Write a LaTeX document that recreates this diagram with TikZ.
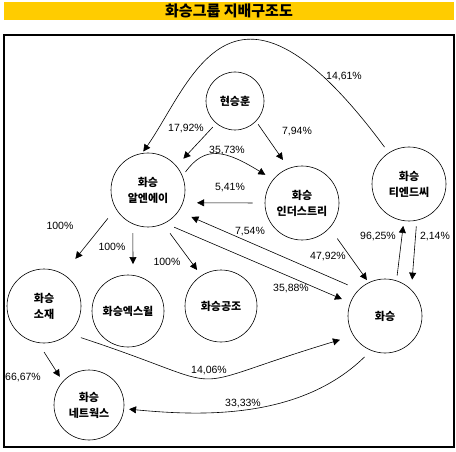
\documentclass[tikz,border=0pt]{standalone}
\usepackage{fontspec}
\setmainfont{Liberation Sans}
\newfontfamily\kr{Noto Sans CJK KR}
\usetikzlibrary{arrows.meta}
\definecolor{amarelo}{RGB}{255,204,0}
\begin{document}
\begin{tikzpicture}[x=1pt,y=-1pt,
	circ/.style={circle,draw,line width=0.6pt,inner sep=0pt,align=center,
		font=\kr\bfseries\fontsize{11}{16}\selectfont},
	seta/.style={-{Triangle[length=7pt,width=7pt]},line width=0.6pt},
	pct/.style={font=\fontsize{10.5}{13}\selectfont,inner sep=0pt}]
		
		\useasboundingbox (0,0) rectangle (456,452);
		
		% 제목
		\fill[amarelo] (4,2) rectangle (454,20);
		\node[font=\kr\bfseries\fontsize{15}{18}\selectfont] (titulo) at (229,11) {화승그룹 지배구조도};
		
		% 테두리
		\draw[line width=1.4pt] (4,35) rectangle (454,447);
		
		% 회사들
		\node[circ,minimum size=58pt] (hsh) at (235,101) {현승훈};
		\node[circ,minimum size=74pt] (rna) at (148,190) {화승\\알엔에이};
		\node[circ,minimum size=74pt] (ind) at (302,203) {화승\\인더스트리};
		\node[circ,minimum size=74pt] (tnd) at (409,184) {화승\\티엔드씨};
		\node[circ,minimum size=74pt] (hs) at (385,316) {화승};
		\node[circ,minimum size=74pt] (soj) at (44,306) {화승\\소재};
		\node[circ,minimum size=72pt] (xw) at (128,311) {화승엑스윌};
		\node[circ,minimum size=72pt] (gj) at (221,306) {화승공조};
		\node[circ,minimum size=70pt] (net) at (89,405) {화승\\네트웍스};
		
		% 현승훈 지분
		\draw[seta,shorten <=5pt,shorten >=10pt] (hsh.230) -- (rna.40);
		\node[pct] (p1) at (186,129) {17,92\%};
		\draw[seta,shorten <=3.6pt,shorten >=10pt] (hsh.-44) -- (ind.111);
		\node[pct] (p2) at (297,132) {7,94\%};
		
		% 티엔드씨 -> 알엔에이 (위쪽 곡선)
		\draw[seta,shorten <=7pt,shorten >=2pt] (tnd.123) .. controls (232,-59) and (192,82) .. (rna.99);
		\node[pct] (p3) at (344,77) {14,61\%};
		
		% 알엔에이 <-> 인더스트리
		\draw[seta,shorten <=5pt,shorten >=9pt] (rna.22) .. controls (205,145) and (225,150) .. (ind.141);
		\node[pct] (p4) at (227,151) {35,73\%};
		\draw[seta,shorten <=12pt,shorten >=14pt] (ind.180) -- (rna.-20);
		\node[pct] (p5) at (230,188) {5,41\%};
		
		% 알엔에이 <-> 화승
		\draw[seta,shorten <=12pt,shorten >=14pt] (hs.135) -- (rna.-35);
		\node[pct] (p6) at (250,232) {7,54\%};
		\draw[seta,shorten <=10pt,shorten >=9pt] (rna.-63) -- (hs.159);
		\node[pct] (p7) at (291,289) {35,88\%};
		
		% 인더스트리 -> 화승
		\draw[seta,shorten <=13pt,shorten >=3pt] (ind.-42) -- (hs.116);
		\node[pct] (p8) at (328,257) {47,92\%};
		
		% 화승 <-> 티엔드씨
		\draw[seta,shorten <=5pt,shorten >=5pt] (hs.72) -- (tnd.-98);
		\node[pct] (p9) at (378,237) {96,25\%};
		\draw[seta,shorten <=6pt,shorten >=10pt] (tnd.-78) -- (hs.45);
		\node[pct] (p10) at (435,237) {2,14\%};
		
		% 알엔에이 자회사
		\draw[seta,shorten <=12.5pt,shorten >=19.5pt] (rna.210) -- (soj.59);
		\node[pct] (p11) at (60,226) {100\%};
		\draw[seta,shorten <=9pt,shorten >=11pt] (rna.246) -- (xw.82);
		\node[pct] (p12) at (112,247) {100\%};
		\draw[seta,shorten <=11.5pt,shorten >=7pt] (rna.-66) -- (gj.123);
		\node[pct] (p13) at (167,262) {100\%};
		
		% 소재 -> 화승
		\draw[seta,shorten <=12.6pt,shorten >=14pt] (soj.-48) .. controls (246,392) and (167,392) .. (hs.212);
		\node[pct] (p14) at (209,371) {14,06\%};
		
		% 네트웍스 지분
		\draw[seta,shorten <=9pt,shorten >=5pt] (hs.248) .. controls (300,420) and (200,416) .. (net.-6);
		\node[pct] (p15) at (243,404) {33,33\%};
		\draw[seta,shorten <=11pt,shorten >=5.5pt] (soj.-99) -- (net.138);
		\node[pct] (p16) at (23,378) {66,67\%};
		
	\end{tikzpicture}
\end{document}
